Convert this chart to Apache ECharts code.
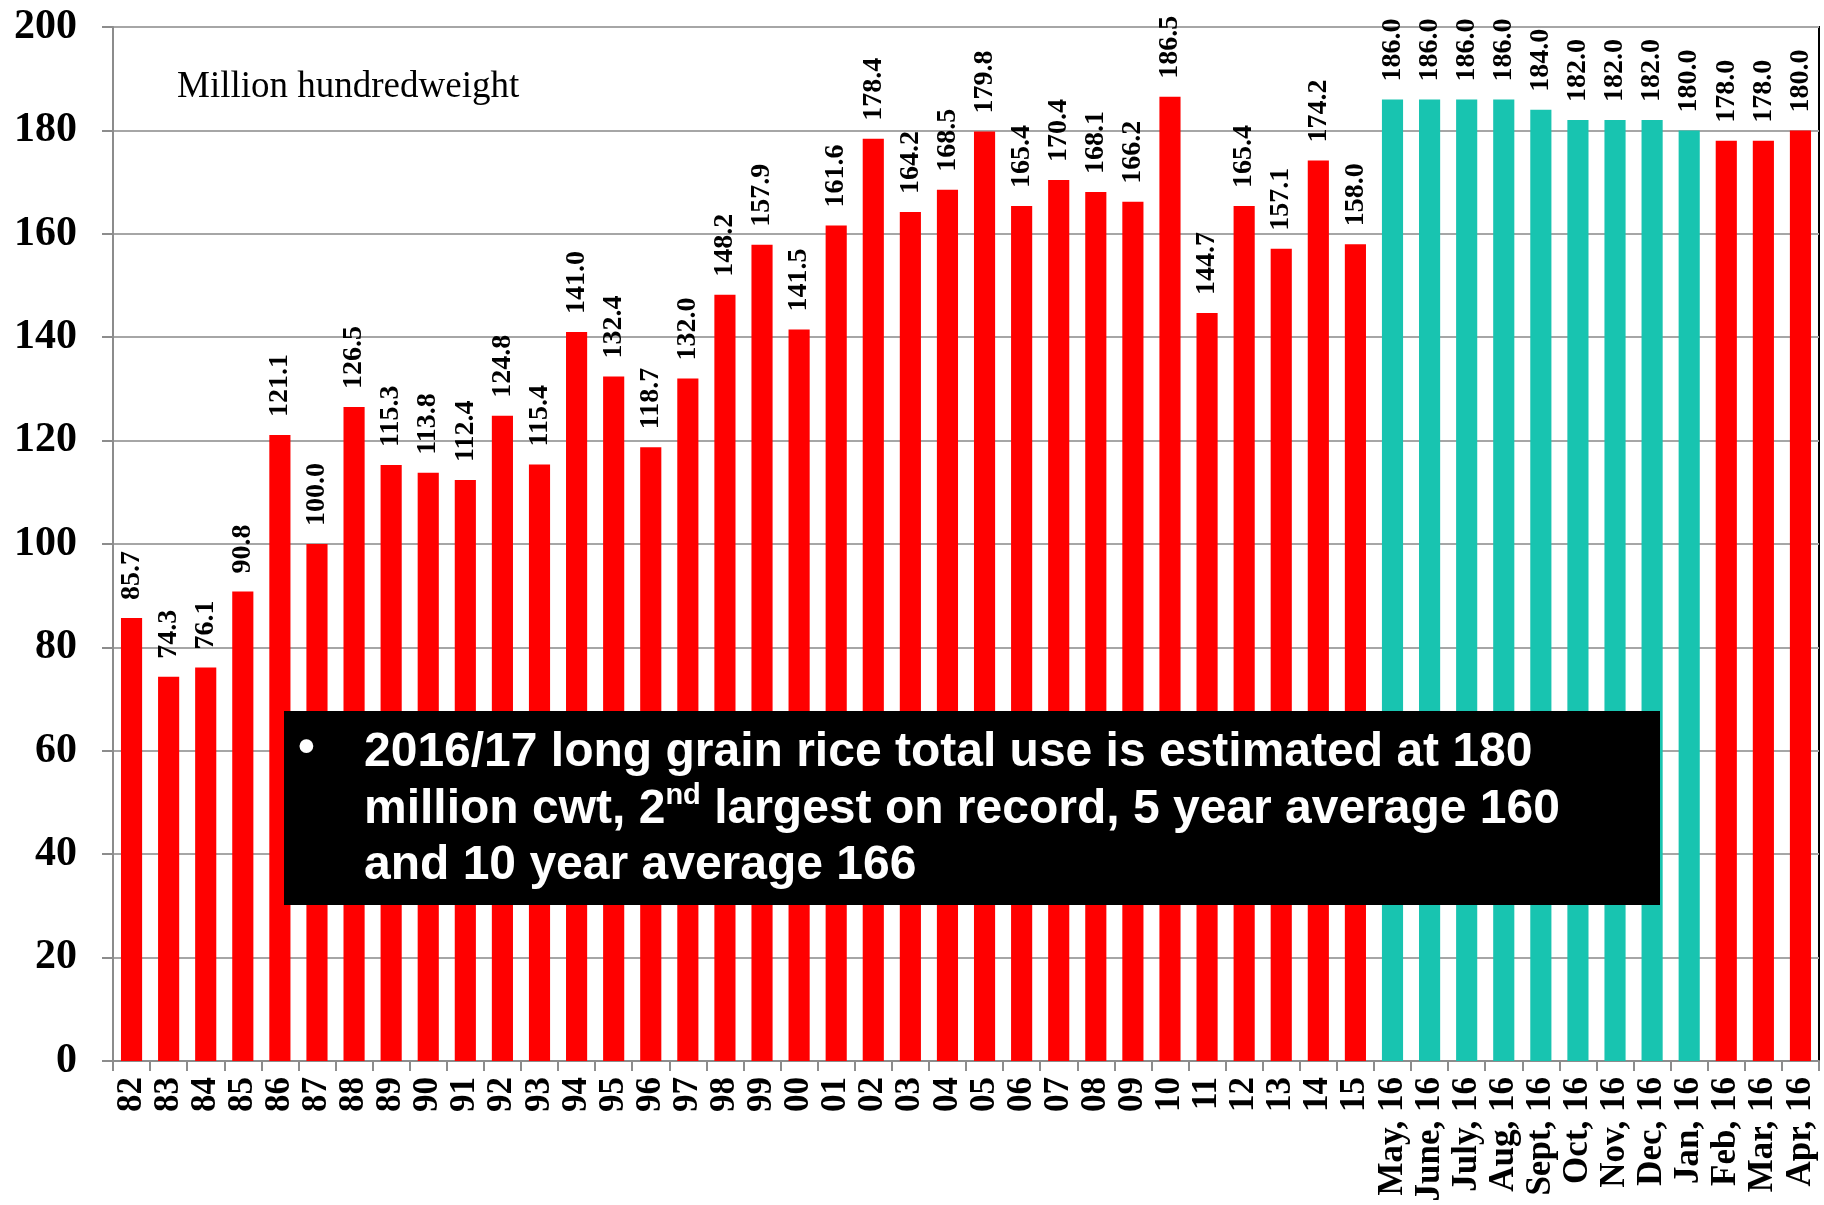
<!DOCTYPE html>
<html>
<head>
<meta charset="utf-8">
<script src="https://cdn.jsdelivr.net/npm/echarts@6/dist/echarts.min.js"></script>
<style>
html,body{margin:0;padding:0;background:#fff;}
#chart{width:1824px;height:1205px;}
</style>
</head>
<body>
<div id="chart"></div>
<script>
const categories = ['82','83','84','85','86','87','88','89','90','91','92','93','94','95','96','97','98','99',
  '00','01','02','03','04','05','06','07','08','09','10','11','12','13','14','15',
  'May, 16','June, 16','July, 16','Aug, 16','Sept, 16','Oct, 16','Nov, 16','Dec, 16','Jan, 16','Feb, 16','Mar, 16','Apr, 16'];
const totalUse = [85.7,74.3,76.1,90.8,121.1,100.0,126.5,115.3,113.8,112.4,124.8,115.4,141.0,132.4,118.7,132.0,148.2,157.9,
  141.5,161.6,178.4,164.2,168.5,179.8,165.4,170.4,168.1,166.2,186.5,144.7,165.4,157.1,174.2,158.0,
  186.0,186.0,186.0,186.0,184.0,182.0,182.0,182.0,180.0,178.0,178.0,180.0];
// monthly estimates shown in the alternate colour
const tealMonths = ['May, 16','June, 16','July, 16','Aug, 16','Sept, 16','Oct, 16','Nov, 16','Dec, 16','Jan, 16'];
const yTicks = [0,20,40,60,80,100,120,140,160,180,200];
const unitText = 'Million hundredweight';
const noteLines = ['2016/17 long grain rice total use is estimated at 180',
  'million cwt, 2{sup|nd} largest on record, 5 year average 160',
  'and 10 year average 166'];

const RED = '#FF0000', TEAL = '#18C4B0';
const chart = echarts.init(document.getElementById('chart'), null, {renderer:'canvas'});
const serif = '"Liberation Serif","Times New Roman",serif';
const sans = '"Liberation Sans",Arial,sans-serif';

chart.setOption({
  animation:false,
  backgroundColor:'#fff',
  grid:{left:113,right:5,top:27,bottom:144,show:true,borderColor:'#000',borderWidth:2,backgroundColor:'transparent'},
  xAxis:{
    type:'category',
    data:categories,
    axisLine:{lineStyle:{color:'#8c8c8c',width:2}},
    axisTick:{show:true,length:10,interval:0,lineStyle:{color:'#8c8c8c',width:2}},
    axisLabel:{interval:0,rotate:90,margin:16,color:'#000',fontFamily:serif,fontWeight:'bold',fontSize:35}
  },
  yAxis:{
    type:'value',min:yTicks[0],max:yTicks[yTicks.length-1],interval:yTicks[1]-yTicks[0],
    axisLine:{show:true,lineStyle:{color:'#8c8c8c',width:2}},
    axisTick:{show:true,length:11,lineStyle:{color:'#8c8c8c',width:2}},
    splitLine:{lineStyle:{color:'#a6a6a6',width:2}},
    axisLabel:{margin:36,color:'#000',fontFamily:serif,fontWeight:'bold',fontSize:42}
  },
  series:[{
    type:'bar',
    data:totalUse,
    barCategoryGap:'43%',
    itemStyle:{color:p => tealMonths.includes(categories[p.dataIndex]) ? TEAL : RED},
    label:{show:true,position:'top',rotate:90,align:'left',verticalAlign:'middle',distance:18,
      formatter:p => p.value.toFixed(1),color:'#000',fontFamily:serif,fontWeight:'bold',fontSize:28}
  }],
  graphic:[
    {type:'text',left:177,top:69,z:10,style:{text:unitText,font:'37px '+serif,fill:'#000'}},
    {type:'rect',left:284,top:711,z:10,shape:{width:1376,height:194},style:{fill:'#000'}},
    {type:'text',left:298,top:725,z:11,style:{text:'\u2022',font:'bold 48px '+sans,fill:'#fff'}},
    {type:'text',left:364,top:725,z:11,style:{
      text:noteLines.join('\n'),fill:'#fff',fontFamily:sans,fontWeight:'bold',fontSize:48,lineHeight:56.5,
      rich:{sup:{fontFamily:sans,fontWeight:'bold',fontSize:29,fill:'#fff',verticalAlign:'top',lineHeight:56.5,padding:[0,0,22,0]}}
    }}
  ]
});
</script>
</body>
</html>
